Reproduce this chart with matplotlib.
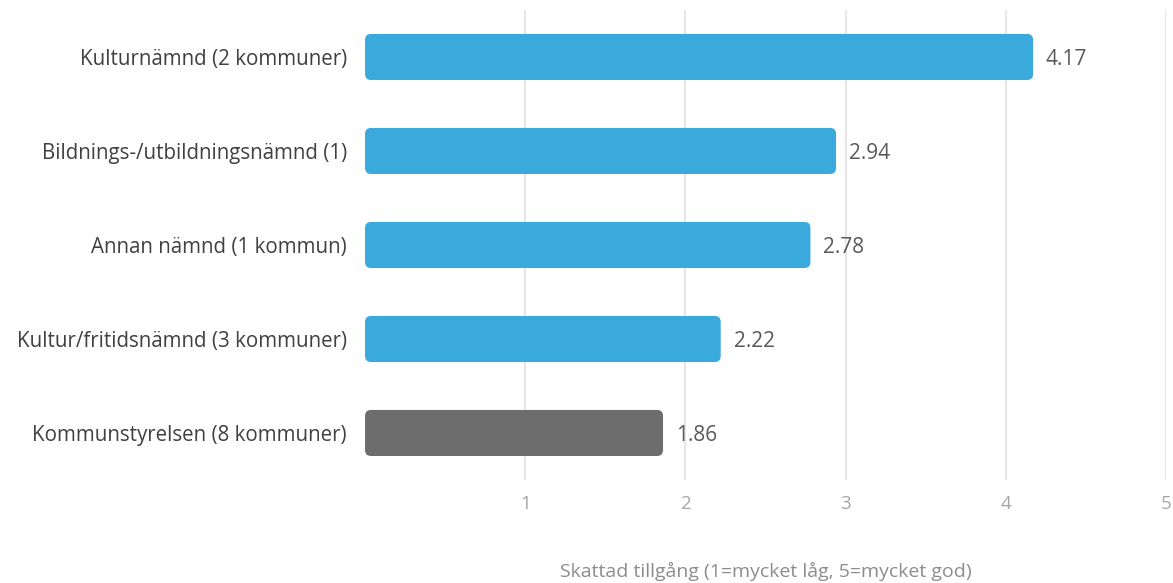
import matplotlib
matplotlib.use("Agg")
import matplotlib.pyplot as plt
from matplotlib.patches import FancyBboxPatch

# data, bottom to top as drawn
categories = [
    "Kommunstyrelsen (8 kommuner)",
    "Kultur/fritidsnämnd (3 kommuner)",
    "Annan nämnd (1 kommun)",
    "Bildnings-/utbildningsnämnd (1)",
    "Kulturnämnd (2 kommuner)",
]
values = [1.86, 2.22, 2.78, 2.94, 4.17]
bar_colors = ["#6d6d6d", "#3aaadc", "#3aaadc", "#3aaadc", "#3aaadc"]
x_ticks = [1, 2, 3, 4, 5]
x_label = "Skattad tillgång (1=mycket låg, 5=mycket god)"

plt.rcParams["font.family"] = ["Open Sans", "DejaVu Sans"]

fig = plt.figure(figsize=(11.73, 5.83), dpi=100)
ax = fig.add_axes([0.3112, 0.1767, 0.6829, 0.8062])

bars = ax.barh(range(len(categories)), values, height=0.49, color=bar_colors)

ax.set_xlim(0, 5)
ax.set_ylim(-0.5, len(categories) - 0.5)

# swap plain bars for rounded ones with the same data bounds
px_x = 0.6829 * 1173 / 5
px_y = 0.8062 * 583 / len(categories)
r = 6 / px_x
for b in bars:
    x0, y0 = b.get_x(), b.get_y()
    w, h = b.get_width(), b.get_height()
    b.set_visible(False)
    patch = FancyBboxPatch((x0, y0), w, h,
                           boxstyle=f"round,pad=0,rounding_size={r}",
                           mutation_aspect=px_x / px_y,
                           facecolor=b.get_facecolor(), edgecolor="none", zorder=3)
    ax.add_patch(patch)
    ax.text(x0 + w + 0.08, y0 + h / 2, f"{w:.2f}", va="center_baseline", ha="left",
            fontsize=15, color="#595959")

ax.set_yticks(range(len(categories)))
ax.set_yticklabels(categories, fontsize=14.8, color="#404040", va="center_baseline")
ax.set_xticks(x_ticks)
ax.set_xticklabels([str(t) for t in x_ticks], fontsize=13.5, color="#a6a6a6")
ax.tick_params(axis="y", length=0, pad=13)
ax.tick_params(axis="x", length=0, pad=11)
ax.grid(axis="x", color="#e6e6e6", linewidth=1.5, zorder=0)
ax.set_axisbelow(True)
for s in ax.spines.values():
    s.set_visible(False)

ax.set_xlabel(x_label, fontsize=14, color="#8c8c8c", labelpad=35)

fig.savefig("out.png", dpi=100)
